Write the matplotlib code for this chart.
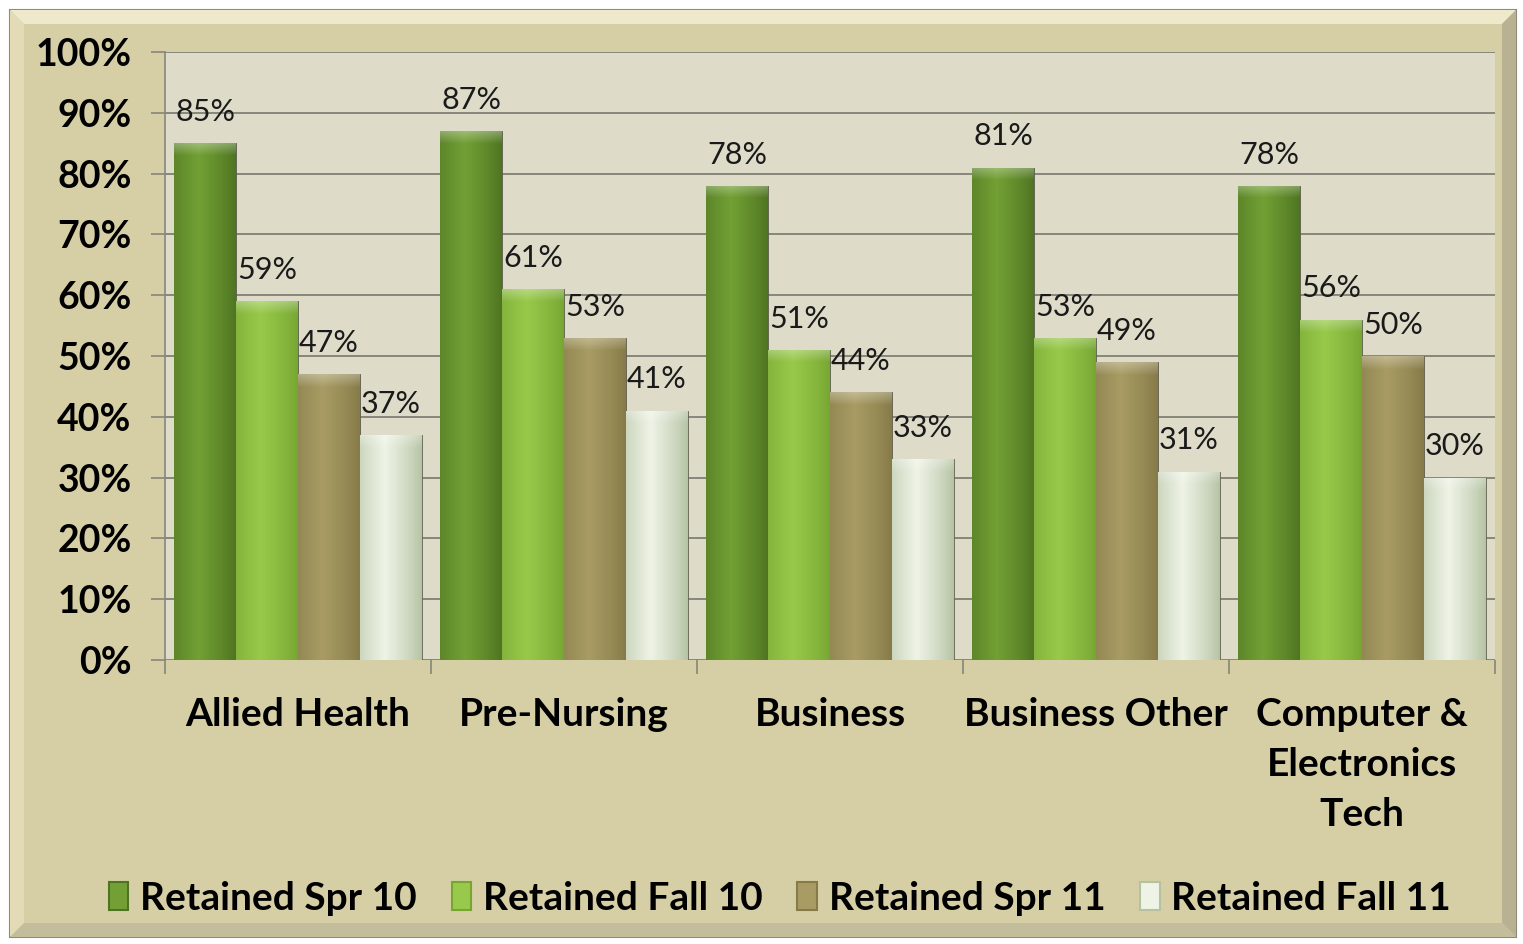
import numpy as np
import matplotlib
matplotlib.use("Agg")
import matplotlib.pyplot as plt
from matplotlib.patches import Rectangle, Polygon
from matplotlib.colors import to_rgb

plt.rcParams['font.family'] = ['Lato', 'DejaVu Sans']

categories = ["Allied Health", "Pre-Nursing", "Business", "Business Other",
              "Computer &\nElectronics\nTech"]
series_names = ["Retained Spr 10", "Retained Fall 10", "Retained Spr 11", "Retained Fall 11"]
spr10 = [85, 87, 78, 81, 78]
fall10 = [59, 61, 51, 53, 56]
spr11 = [47, 53, 44, 49, 50]
fall11 = [37, 41, 33, 31, 30]
values = [spr10, fall10, spr11, fall11]
yticks = [0, 10, 20, 30, 40, 50, 60, 70, 80, 90, 100]

# (edge, centre) colours for each series gradient
base_colors = [("#4e7322", "#72a034"), ("#76a632", "#98c94a"),
               ("#857a48", "#a89c64"), ("#b4c2a2", "#eef3e6")]

fig = plt.figure(figsize=(15.23, 9.44), dpi=100)
fig.patch.set_facecolor("white")

# outer frame with bevel
W, H = 1523, 944
def fx(p): return p / W
def fy(p): return 1 - p / H
x0, x1, y0, y1 = 10, 1516, 10, 937
b = 14
frame = Rectangle((fx(x0), fy(y1)), fx(x1) - fx(x0), fy(y0) - fy(y1),
                  transform=fig.transFigure, facecolor="#d6cfa6",
                  edgecolor="#8f8a78", linewidth=1.5, zorder=0)
fig.patches.append(frame)
top = Polygon([(fx(x0), fy(y0)), (fx(x1), fy(y0)), (fx(x1 - b), fy(y0 + b)), (fx(x0 + b), fy(y0 + b))],
              closed=True, transform=fig.transFigure, facecolor="#efe9cc", edgecolor="none", zorder=0.5)
left = Polygon([(fx(x0), fy(y0)), (fx(x0 + b), fy(y0 + b)), (fx(x0 + b), fy(y1 - b)), (fx(x0), fy(y1))],
               closed=True, transform=fig.transFigure, facecolor="#e2dbb6", edgecolor="none", zorder=0.5)
right = Polygon([(fx(x1), fy(y0)), (fx(x1), fy(y1)), (fx(x1 - b), fy(y1 - b)), (fx(x1 - b), fy(y0 + b))],
                closed=True, transform=fig.transFigure, facecolor="#b9b292", edgecolor="none", zorder=0.5)
bottom = Polygon([(fx(x0), fy(y1)), (fx(x1), fy(y1)), (fx(x1 - b), fy(y1 - b)), (fx(x0 + b), fy(y1 - b))],
                 closed=True, transform=fig.transFigure, facecolor="#c4bd9c", edgecolor="none", zorder=0.5)
for p in (top, left, right, bottom):
    fig.patches.append(p)

ax = fig.add_axes([165 / W, 1 - 660 / H, (1495 - 165) / W, (660 - 52) / H])
ax.set_facecolor("#dedbc9")
ax.set_zorder(2)

n = len(categories)
x = np.arange(n)
bw = 0.233
offsets = (np.arange(4) - 1.5) * bw

def grad_img(edge, centre, height):
    e = np.array(to_rgb(edge)); c = np.array(to_rgb(centre))
    t = np.linspace(0, 1, 128)
    prof = np.clip(1 - np.abs(t - 0.4) / 0.6, 0, 1) ** 0.8
    row = e[None, :] * (1 - prof[:, None]) + c[None, :] * prof[:, None]
    nrows = 400
    img = np.repeat(row[None, :, :], nrows, axis=0)
    k = max(2, int(round(nrows * 0.022 / height)))
    fade = np.linspace(0.3, 0.0, k)[:, None, None]
    img[:k] = img[:k] * (1 - fade) + fade
    return np.clip(img, 0, 1)

for i, vals in enumerate(values):
    vals_f = np.array(vals) / 100.0
    bars = ax.bar(x + offsets[i], vals_f, width=bw, color=base_colors[i][1],
                  edgecolor="#5a5a4a", linewidth=0.6, zorder=3, label=series_names[i])
    for bar in bars:
        bx, by, bh = bar.get_x(), bar.get_y(), bar.get_height()
        im = ax.imshow(grad_img(*base_colors[i], bh),
                       extent=[bx, bx + bar.get_width(), by, by + bh],
                       aspect="auto", zorder=3.5, interpolation="bilinear")
        im.set_clip_path(bar)
    for xi, v in zip(x + offsets[i], vals):
        ax.annotate(f"{v}%", (xi, v / 100.0), xytext=(0, 16), textcoords="offset points",
                    ha="center", va="baseline", fontsize=22, color="#1a1a1a", zorder=5)

ax.set_xlim(-0.5, n - 0.5)
ax.set_ylim(0, 1)
ax.set_yticks([t / 100 for t in yticks])
ax.set_yticklabels([f"{t}%" for t in yticks], fontsize=27, fontweight="bold")
ax.yaxis.grid(True, color="#86867a", linewidth=1.4, zorder=1)
ax.set_axisbelow(True)

ax.set_xticks(x)
ax.set_xticklabels(categories, fontsize=28, fontweight="bold", linespacing=1.5)
ax.tick_params(axis="x", length=0, pad=27)
ax.set_xticks(np.arange(n + 1) - 0.5, minor=True)
ax.tick_params(axis="x", which="minor", length=10, width=1.2, color="#86867a", direction="out")
ax.tick_params(axis="y", length=10, width=1.2, color="#86867a", pad=14)

for s in ["top", "right", "bottom"]:
    ax.spines[s].set_visible(False)
ax.spines["left"].set_color("#86867a")
ax.spines["left"].set_linewidth(1.2)

handles = [Rectangle((0, 0), 1, 1, facecolor=base_colors[i][1], edgecolor=base_colors[i][0], linewidth=1.5)
           for i in range(4)]
leg = fig.legend(handles, series_names, loc="center", bbox_to_anchor=(0.512, 1 - 898 / H),
                 ncol=4, frameon=False, prop={"size": 28, "weight": "bold"},
                 handlelength=0.5, handleheight=0.7, handletextpad=0.3, columnspacing=0.9)

fig.savefig("out.png", dpi=100, facecolor=fig.get_facecolor())
